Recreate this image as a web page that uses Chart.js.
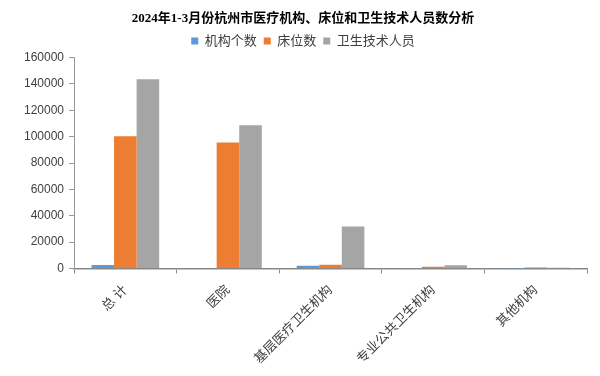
<!DOCTYPE html>
<html>
<head>
<meta charset="utf-8">
<script src="https://cdn.jsdelivr.net/npm/chart.js@4/dist/chart.umd.min.js"></script>
<style>
html,body{margin:0;padding:0;background:#fff;}
#wrap{width:600px;height:376px;position:relative;}
</style>
</head>
<body>
<div id="wrap"><canvas id="c" width="600" height="376"></canvas></div>
<script>
const titleText = "2024年1-3月份杭州市医疗机构、床位和卫生技术人员数分析";
const categories = ["总 计", "医院", "基层医疗卫生机构", "专业公共卫生机构", "其他机构"];
const seriesNames = ["机构个数", "床位数", "卫生技术人员"];
const institutions = [2600, 420, 2100, 60, 30];
const beds = [100300, 95500, 2800, 1200, 700];
const healthWorkers = [143500, 108600, 31800, 2400, 500];
const yTicks = [0, 20000, 40000, 60000, 80000, 100000, 120000, 140000, 160000];

const colors = ["#5B9BD5", "#ED7D31", "#A5A5A5"];
const FONT = "'Liberation Sans', 'Noto Sans CJK SC', sans-serif";

new Chart(document.getElementById('c'), {
  type: 'bar',
  data: {
    labels: categories,
    datasets: [
      {label: seriesNames[0], data: institutions, backgroundColor: colors[0]},
      {label: seriesNames[1], data: beds, backgroundColor: colors[1]},
      {label: seriesNames[2], data: healthWorkers, backgroundColor: colors[2]}
    ]
  },
  options: {
    responsive: false,
    animation: false,
    devicePixelRatio: 1,
    layout: {padding: {left: 19, right: 13, top: 0, bottom: 0}},
    datasets: {bar: {categoryPercentage: 0.66, barPercentage: 1.0}},
    plugins: {
      title: {
        display: true,
        text: titleText,
        color: '#000',
        font: {family: "'Liberation Serif', 'Noto Sans CJK SC', serif", size: 13, weight: 'bold'},
        padding: {top: 11, bottom: 1}
      },
      legend: {
        display: true,
        position: 'top',
        labels: {
          color: '#404040',
          font: {family: FONT, size: 13},
          boxWidth: 7,
          boxHeight: 7,
          padding: 7
        }
      },
      tooltip: {enabled: false}
    },
    scales: {
      x: {
        grid: {display: true, offset: true, drawOnChartArea: false, drawTicks: true, tickLength: 5, color: '#888'},
        border: {display: true, color: '#888', width: 1.5},
        ticks: {
          color: '#404040',
          font: {family: FONT, size: 13},
          maxRotation: 45,
          minRotation: 45,
          padding: 9
        }
      },
      y: {
        min: 0,
        max: 160000,
        afterBuildTicks: (axis) => { axis.ticks = yTicks.map(v => ({value: v})); },
        grid: {display: true, drawOnChartArea: false, drawTicks: true, tickLength: 5, color: '#999'},
        border: {display: true, color: '#999', width: 1},
        ticks: {
          color: '#404040',
          font: {family: FONT, size: 12},
          padding: 5,
          callback: (v) => String(v)
        }
      }
    }
  }
});
</script>
</body>
</html>
